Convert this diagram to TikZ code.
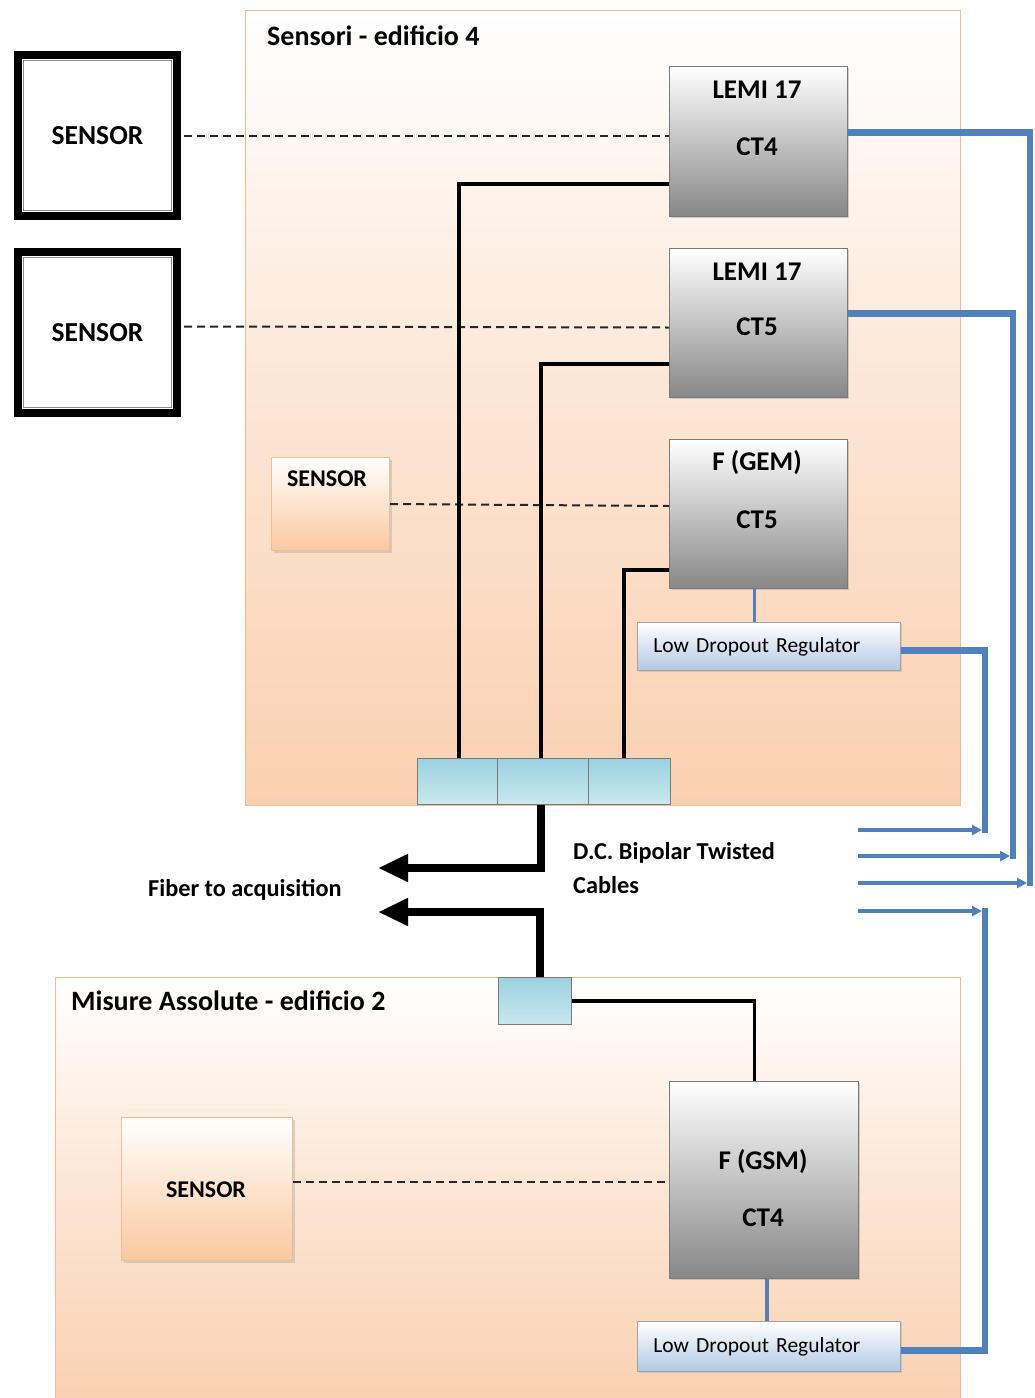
\documentclass[tikz,border=0pt]{standalone}
\usepackage{fontspec}
\setmainfont{Carlito}
\usetikzlibrary{arrows.meta,shadows,calc}
\definecolor{peach}{HTML}{FAD0B0}
\definecolor{peachline}{HTML}{F2BC94}
\definecolor{boxgray}{HTML}{878787}
\definecolor{boxline}{HTML}{7A7A7A}
\definecolor{cblue}{HTML}{4F81BD}
\definecolor{ldrblue}{HTML}{B3C8E4}
\definecolor{cyanA}{HTML}{9CD1DF}
\definecolor{cyanB}{HTML}{D4EDF3}
\begin{document}
\begin{tikzpicture}[x=1pt,y=-1pt,
  panel/.style={draw=peachline, line width=1.2pt, top color=white, bottom color=peach, middle color=peach!55, anchor=north west, inner sep=0pt},
  graybox/.style={draw=boxline, line width=0.8pt, top color=white, bottom color=boxgray, anchor=north west, inner sep=0pt,
     drop shadow={shadow xshift=2pt, shadow yshift=-2pt, fill=black!35}},
  peachbox/.style={draw=peachline, line width=1pt, top color=white, bottom color=peach!90!orange, anchor=north west, inner sep=0pt,
     drop shadow={shadow xshift=2pt, shadow yshift=-2pt, fill=black!30}},
  ldrbox/.style={draw=boxline!70, line width=0.8pt, top color=white, bottom color=ldrblue, anchor=north west, inner xsep=16pt,
     text width=231pt, align=left, font=\fontsize{21.5}{26}\selectfont,
     drop shadow={shadow xshift=2pt, shadow yshift=-2pt, fill=black!30}},
  cell/.style={draw=boxline, line width=0.8pt, top color=cyanA, bottom color=cyanB!80!cyanA, anchor=north west, inner sep=0pt},
  bigsensor/.style={draw=black, line width=6pt, fill=white, anchor=north west, inner sep=0pt, font=\bfseries\fontsize{27.5}{32}\selectfont},
  boxtxt/.style={font=\bfseries\fontsize{27}{32}\selectfont},
  smalltxt/.style={font=\bfseries\fontsize{24}{28}\selectfont},
  lbl/.style={font=\bfseries\fontsize{24.3}{28}\selectfont, anchor=west, inner sep=0pt},
  title/.style={font=\bfseries\fontsize{28}{32}\selectfont, anchor=west, inner sep=0pt},
  dashline/.style={draw=black!85, line width=2pt, dash pattern=on 8pt off 5pt},
  blackline/.style={draw=black, line width=4pt},
  fiber/.style={draw=black, line width=7.5pt, -{Triangle[length=30pt,width=26pt]}},
  bluethick/.style={draw=cblue, line width=6.5pt},
  bluethin/.style={draw=cblue, line width=3.5pt},
  bluearrow/.style={draw=cblue, line width=3.5pt, -{Triangle[length=10pt,width=10pt]}}
]
\useasboundingbox[fill=white] (0,0) rectangle (1034,1398);

% panels
\node[panel, minimum width=715pt, minimum height=795pt] (b4) at (245,10) {};
\node[panel, minimum width=905pt, minimum height=430pt] (b2) at (55,977) {};
\node[title] (t4) at (267,36) {Sensori - edificio 4};
\node[title] (t2) at (71,1001) {Misure Assolute - edificio 2};

% outer sensors
\node[bigsensor, minimum width=161pt, minimum height=163pt] (s1) at (14,51) {SENSOR};
\node[bigsensor, minimum width=161pt, minimum height=163pt] (s2) at (14,248) {SENSOR};
\foreach \s in {s1,s2}{
  \draw[black, line width=1.3pt] ($(\s.north west)+(7,7)$) rectangle ($(\s.south east)+(-7,-7)$);
  \draw[black!45, line width=1pt] ($(\s.north west)+(9.5,9.5)$) rectangle ($(\s.south east)+(-9.5,-9.5)$);
}

% instrument boxes
\node[graybox, minimum width=178pt, minimum height=150pt] (l4) at (669,66) {};
\node[boxtxt] at (757,90) {LEMI 17};
\node[boxtxt] at (757,147) {CT4};
\node[graybox, minimum width=178pt, minimum height=149pt] (l5) at (669,248) {};
\node[boxtxt] at (757,272) {LEMI 17};
\node[boxtxt] at (757,327) {CT5};
\node[graybox, minimum width=178pt, minimum height=149pt] (gem) at (669,439) {};
\node[boxtxt] at (757,463) {F (GEM)};
\node[boxtxt] at (757,520) {CT5};
\node[graybox, minimum width=189pt, minimum height=197pt] (gsm) at (669,1081) {};
\node[boxtxt] at (763,1162) {F (GSM)};
\node[boxtxt] at (763,1218) {CT4};

% small sensors
\node[peachbox, minimum width=118pt, minimum height=93pt] (s3) at (271,457) {};
\node[smalltxt] at (327,479) {SENSOR};
\node[peachbox, minimum width=171pt, minimum height=143pt] (s4) at (121,1117) {};
\node[smalltxt] at (206,1190) {SENSOR};

% regulators
\node[ldrbox, minimum height=48pt] (r1) at (637,622) {Low Dropout Regulator};
\node[ldrbox, minimum height=50pt] (r2) at (637,1321) {Low Dropout Regulator};

% connector blocks
\node[cell, minimum width=80pt, minimum height=46pt] (c1) at (417,758) {};
\node[cell, minimum width=91pt, minimum height=46pt] (c2) at (497,758) {};
\node[cell, minimum width=82pt, minimum height=46pt] (c3) at (588,758) {};
\node[cell, minimum width=73pt, minimum height=47pt] (cs) at (498,977) {};

% dashed sensor links
\draw[dashline] ([xshift=3pt]s1.east) -- (s1.east -| l4.west);
\draw[dashline] ($(s2.east)+(3,-6)$) -- ($(s2.east -| l5.west)+(0,-5)$);
\draw[dashline] (s3.east) -- ($(s3.east -| gem.west)+(0,2)$);
\draw[dashline] ($(s4.east)+(0,-7.5)$) -- ($(s4.east -| gsm.west)+(0,-7.5)$);

% black data lines
\draw[blackline] ($(l4.west)+(0,43)$) -| ([xshift=2pt]c1.north);
\draw[blackline] ($(l5.west)+(0,41.5)$) -| ([xshift=-2pt]c2.north);
\draw[blackline] ($(gem.west)+(0,56.5)$) -| ([xshift=-5pt]c3.north);
\draw[black, line width=3.2pt] (cs.east) -| ([xshift=-9.5pt]gsm.north);

% fiber arrows
\coordinate (f1) at (378,868);
\coordinate (f2) at (378,912);
\draw[fiber] ([xshift=-2pt]c2.south) |- (f1);
\draw[fiber] ([xshift=5pt]cs.north) |- (f2);
\node[lbl] (fl) at (148,890) {Fiber to acquisition};
\node[lbl] (dc1) at (573,853) {D.C. Bipolar Twisted};
\node[lbl] (dc2) at (573,885) {Cables};

% regulator links
\draw[bluethin] ([xshift=-4pt]gem.south) -- ([xshift=-4pt]gem.south |- r1.north);
\draw[bluethin] ([xshift=3pt]gsm.south) -- ([xshift=3pt]gsm.south |- r2.north);

% power lines
\coordinate (j1) at (985,833);
\coordinate (j2) at (1013,859);
\coordinate (j3) at (1030,886);
\coordinate (j4) at (985,908);
\draw[bluethick] ($(r1.east)+(0,4)$) -| (j1);
\draw[bluethick] ($(l5.east)+(0,-9.5)$) -| (j2);
\draw[bluethick] ($(l4.east)+(0,-9)$) -| (j3);
\draw[bluethick] ($(r2.east)+(0,4)$) -| (j4);
\coordinate (a1) at (858,830);
\coordinate (a2) at (858,856);
\coordinate (a3) at (858,883);
\coordinate (a4) at (858,911);
\draw[bluearrow] (a1) -- (982,830);
\draw[bluearrow] (a2) -- (1010,856);
\draw[bluearrow] (a3) -- (1027,883);
\draw[bluearrow] (a4) -- (982,911);
\end{tikzpicture}
\end{document}
